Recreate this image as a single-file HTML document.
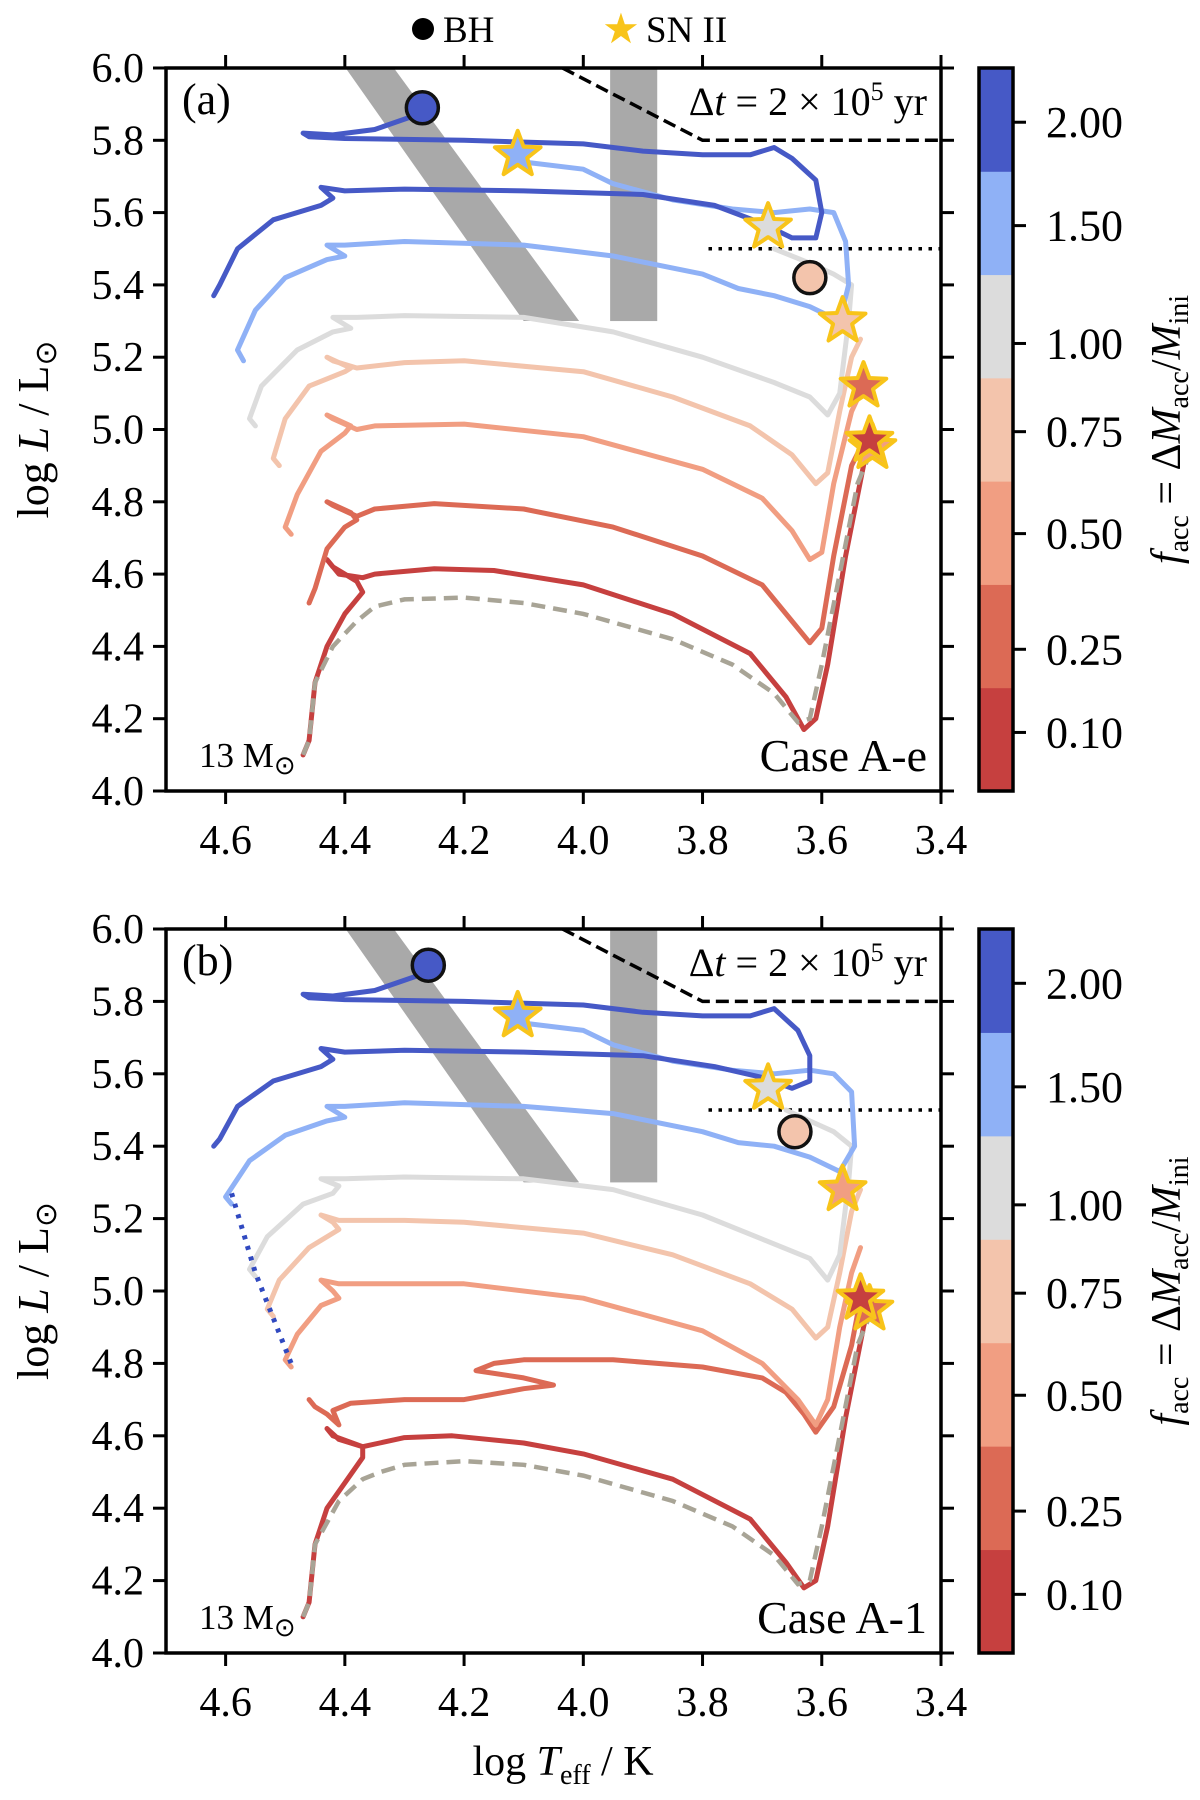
<!DOCTYPE html>
<html><head><meta charset="utf-8"><style>
body{margin:0;background:#fff}
svg{display:block;font-family:"Liberation Serif",serif}
</style></head><body>
<svg id="fig" width="1200" height="1800" viewBox="0 0 1200 1800" xmlns="http://www.w3.org/2000/svg">
<g>
<circle cx="423" cy="29" r="11" fill="#000"/>
<text x="443" y="42" font-size="37">BH</text>
<text x="621" y="43" font-size="42" fill="#f8c41a" text-anchor="middle">★</text>
<text x="646" y="42" font-size="37">SN II</text>
</g>
<text x="563" y="1775" font-size="42" text-anchor="middle">log <tspan font-style="italic">T</tspan><tspan font-size="28" dy="9">eff</tspan><tspan dy="-9"> / K</tspan></text>
</svg>
<script>
const facc = ['0.10','0.25','0.50','0.75','1.00','1.50','2.00'];
const colors = ['#c6403f','#dc6a55','#f19e82','#f3c4ac','#dcdcdc','#8fb1f6','#4659c6'];
const cbTicks = ['2.00','1.50','1.00','0.75','0.50','0.25','0.10'];
const cbTickFrac = [0.075,0.218,0.381,0.503,0.644,0.804,0.919];
const xTicks = [4.6,4.4,4.2,4.0,3.8,3.6,3.4];
const yTicks = [4.0,4.2,4.4,4.6,4.8,5.0,5.2,5.4,5.6,5.8,6.0];

const nonAccA = [[4.47,4.10],[4.46,4.14],[4.45,4.30],[4.42,4.40],[4.38,4.47],[4.35,4.51],[4.3,4.53],[4.2,4.535],[4.1,4.52],[4.0,4.49],[3.85,4.42],[3.75,4.35],[3.68,4.27],[3.64,4.19],[3.62,4.20],[3.60,4.35],[3.57,4.6],[3.54,4.85],[3.52,4.93]];
const tracksA = [
[[4.47,4.10],[4.46,4.14],[4.45,4.30],[4.43,4.40],[4.40,4.49],[4.37,4.55],[4.38,4.58],[4.42,4.62],[4.43,4.64],[4.41,4.60],[4.37,4.59],[4.35,4.60],[4.25,4.615],[4.15,4.61],[4.0,4.57],[3.85,4.49],[3.72,4.38],[3.66,4.26],[3.63,4.17],[3.61,4.2],[3.59,4.35],[3.56,4.65],[3.53,4.9],[3.52,4.97]],
[[4.46,4.52],[4.45,4.56],[4.43,4.67],[4.40,4.73],[4.38,4.75],[4.39,4.77],[4.43,4.80],[4.42,4.79],[4.38,4.76],[4.35,4.78],[4.25,4.795],[4.1,4.78],[3.95,4.73],[3.8,4.65],[3.7,4.57],[3.65,4.47],[3.62,4.41],[3.60,4.45],[3.58,4.65],[3.55,4.9],[3.52,5.0]],
[[4.49,4.71],[4.50,4.73],[4.48,4.82],[4.44,4.94],[4.40,4.99],[4.39,5.01],[4.43,5.04],[4.42,5.03],[4.38,5.0],[4.35,5.01],[4.2,5.015],[4.0,4.98],[3.8,4.89],[3.7,4.81],[3.65,4.72],[3.62,4.64],[3.60,4.66],[3.58,4.85],[3.55,5.05],[3.53,5.12]],
[[4.51,4.90],[4.52,4.92],[4.50,5.03],[4.46,5.12],[4.40,5.16],[4.39,5.17],[4.43,5.20],[4.42,5.19],[4.38,5.17],[4.3,5.185],[4.2,5.19],[4.0,5.16],[3.85,5.09],[3.72,5.01],[3.65,4.93],[3.61,4.85],[3.59,4.88],[3.57,5.05],[3.55,5.2],[3.535,5.25]],
[[4.55,5.01],[4.56,5.03],[4.54,5.12],[4.48,5.22],[4.42,5.27],[4.39,5.28],[4.42,5.31],[4.38,5.31],[4.3,5.315],[4.1,5.31],[3.95,5.27],[3.8,5.20],[3.68,5.13],[3.62,5.09],[3.59,5.04],[3.57,5.10],[3.555,5.3],[3.55,5.4],[3.58,5.43],[3.62,5.46],[3.68,5.50]],
[[4.57,5.19],[4.58,5.22],[4.55,5.33],[4.50,5.42],[4.43,5.47],[4.40,5.48],[4.43,5.51],[4.40,5.51],[4.3,5.52],[4.1,5.51],[3.95,5.48],[3.8,5.43],[3.74,5.39],[3.68,5.37],[3.62,5.34],[3.57,5.30],[3.555,5.40],[3.56,5.52],[3.58,5.60],[3.62,5.61],[3.68,5.60],[3.75,5.61],[3.85,5.635],[3.95,5.68],[4.0,5.72],[4.1,5.74]],
[[4.62,5.37],[4.61,5.40],[4.58,5.50],[4.52,5.58],[4.44,5.62],[4.42,5.64],[4.44,5.67],[4.40,5.66],[4.3,5.665],[4.1,5.66],[3.9,5.65],[3.78,5.62],[3.7,5.57],[3.65,5.53],[3.61,5.53],[3.6,5.6],[3.61,5.69],[3.65,5.75],[3.68,5.78],[3.72,5.76],[3.8,5.76],[3.9,5.77],[4.0,5.79],[4.2,5.80],[4.4,5.805],[4.46,5.81],[4.47,5.82],[4.42,5.815],[4.35,5.83],[4.28,5.87]]
];
const nonAccB = [[4.47,4.10],[4.46,4.14],[4.45,4.30],[4.41,4.42],[4.37,4.48],[4.34,4.50],[4.3,4.52],[4.2,4.53],[4.1,4.52],[4.0,4.49],[3.85,4.42],[3.75,4.35],[3.68,4.27],[3.64,4.19],[3.62,4.20],[3.60,4.35],[3.57,4.6],[3.54,4.85],[3.52,4.93]];
const tracksB = [
[[4.47,4.10],[4.46,4.14],[4.45,4.30],[4.43,4.40],[4.40,4.47],[4.37,4.54],[4.37,4.57],[4.42,4.60],[4.43,4.62],[4.41,4.59],[4.37,4.57],[4.3,4.595],[4.22,4.60],[4.1,4.58],[4.0,4.55],[3.85,4.48],[3.72,4.37],[3.66,4.25],[3.63,4.18],[3.61,4.2],[3.59,4.35],[3.56,4.65],[3.53,4.9],[3.52,4.97]],
[[4.46,4.70],[4.45,4.68],[4.43,4.66],[4.41,4.63],[4.42,4.67],[4.39,4.69],[4.3,4.70],[4.2,4.70],[4.1,4.73],[4.05,4.74],[4.1,4.76],[4.18,4.78],[4.15,4.80],[4.1,4.81],[3.95,4.81],[3.8,4.79],[3.7,4.76],[3.66,4.72],[3.63,4.66],[3.61,4.61],[3.58,4.68],[3.55,4.85],[3.535,4.98]],
[[4.49,4.79],[4.50,4.81],[4.48,4.88],[4.44,4.96],[4.41,4.98],[4.42,5.0],[4.44,5.03],[4.41,5.02],[4.35,5.02],[4.2,5.02],[4.0,4.98],[3.8,4.89],[3.7,4.80],[3.64,4.70],[3.61,4.63],[3.59,4.70],[3.57,4.90],[3.55,5.05],[3.535,5.12]],
[[4.52,4.93],[4.53,4.95],[4.51,5.03],[4.46,5.12],[4.41,5.17],[4.42,5.19],[4.44,5.21],[4.41,5.195],[4.3,5.195],[4.2,5.19],[4.0,5.16],[3.85,5.10],[3.72,5.02],[3.65,4.95],[3.61,4.87],[3.59,4.90],[3.57,5.05],[3.55,5.22],[3.535,5.28]],
[[4.55,5.04],[4.56,5.06],[4.53,5.15],[4.47,5.24],[4.42,5.27],[4.41,5.29],[4.44,5.31],[4.40,5.31],[4.3,5.315],[4.1,5.31],[3.95,5.28],[3.8,5.21],[3.68,5.13],[3.62,5.09],[3.59,5.03],[3.57,5.10],[3.555,5.3],[3.55,5.4],[3.58,5.44],[3.62,5.47],[3.66,5.50]],
[[4.59,5.24],[4.60,5.26],[4.56,5.36],[4.50,5.43],[4.43,5.47],[4.40,5.48],[4.43,5.51],[4.40,5.51],[4.3,5.52],[4.1,5.51],[3.95,5.49],[3.8,5.44],[3.74,5.41],[3.68,5.40],[3.62,5.37],[3.57,5.33],[3.545,5.40],[3.55,5.55],[3.58,5.60],[3.62,5.61],[3.68,5.60],[3.75,5.61],[3.85,5.635],[3.95,5.68],[4.0,5.72],[4.1,5.74]],
[[4.62,5.40],[4.61,5.42],[4.58,5.51],[4.52,5.58],[4.44,5.62],[4.42,5.64],[4.44,5.67],[4.40,5.66],[4.3,5.665],[4.1,5.66],[3.9,5.65],[3.78,5.62],[3.7,5.59],[3.65,5.56],[3.62,5.58],[3.62,5.65],[3.64,5.72],[3.68,5.78],[3.72,5.76],[3.8,5.76],[3.9,5.77],[4.0,5.79],[4.2,5.80],[4.4,5.805],[4.46,5.81],[4.47,5.82],[4.42,5.815],[4.35,5.83],[4.28,5.87]]
];
const dottedB = [[4.59,5.27],[4.55,5.05],[4.49,4.80]];
const starsA = [[4.11,5.76,5],[3.69,5.56,4],[3.565,5.30,3],[3.53,5.12,1],[3.515,4.95,2],[3.52,4.97,0]];
const circlesA = [[4.27,5.89,6],[3.62,5.42,3]];
const starsB = [[4.11,5.76,5],[3.69,5.56,4],[3.565,5.28,2],[3.52,4.95,1],[3.535,4.98,0]];
const circlesB = [[4.26,5.90,6],[3.645,5.44,3]];

const NS='http://www.w3.org/2000/svg';
const svg=document.getElementById('fig');
function mk(tag,attrs,parent){const e=document.createElementNS(NS,tag);for(const k in attrs)e.setAttribute(k,attrs[k]);(parent||svg).appendChild(e);return e;}

function panel(top,bot,tracks,nonAcc,stars,circles,tag,caseLabel,dotted){
  const L=166,R=941;
  const sx=t=>L+(4.7-t)/1.3*(R-L);
  const sy=l=>bot-(l-4.0)/2.0*(bot-top);
  const g=mk('g',{});
  
  
  const clipId='clip'+tag;
  const cp=mk('clipPath',{id:clipId},g);mk('rect',{x:L,y:top,width:R-L,height:bot-top},cp);
  const pg=mk('g',{'clip-path':'url(#'+clipId+')'},g);
  const b1=mk('polygon',{points:`${sx(4.42)},${sy(6.05)} ${sx(4.34)},${sy(6.05)} ${sx(4.007)},${sy(5.30)} ${sx(4.10)},${sy(5.30)}`,fill:'#a9a9a9'},pg);
  
  
  const b2=mk('rect',{x:sx(3.955),y:top,width:sx(3.876)-sx(3.955),height:sy(5.30)-top,fill:'#a9a9a9'},pg);
  
  
  const dl=mk('polyline',{points:`${sx(4.035)},${sy(6.0)} ${sx(3.80)},${sy(5.80)} ${sx(3.4)},${sy(5.80)}`,fill:'none',stroke:'#000','stroke-width':3.5,'stroke-dasharray':'13,6'},pg);
  
  
  const dt=mk('line',{x1:sx(3.79),y1:sy(5.5),x2:R,y2:sy(5.5),stroke:'#000','stroke-width':3.5,'stroke-dasharray':'3.5,6.5'},pg);
  
  
  const pts=a=>a.map(p=>sx(p[0]).toFixed(1)+','+sy(p[1]).toFixed(1)).join(' ');
  tracks.forEach((tr,i)=>{
    const e=mk('polyline',{points:pts(tr),fill:'none',stroke:colors[i],'stroke-width':5,'stroke-linejoin':'round','stroke-linecap':'round'},pg);
    
    
  });
  const na=mk('polyline',{points:pts(nonAcc),fill:'none',stroke:'#a8a496','stroke-width':4.5,'stroke-dasharray':'14,8'},pg);
  
  
  if(dotted){
    const d=mk('polyline',{points:pts(dotted),fill:'none',stroke:'#3049c0','stroke-width':5,'stroke-dasharray':'4,7'},pg);
    
    
  }
  circles.forEach(c=>{
    const e=mk('circle',{cx:sx(c[0]),cy:sy(c[1]),r:16,fill:colors[c[2]],stroke:'#111','stroke-width':3.5},pg);
    
    
  });
  stars.forEach(s=>{
    const cx=sx(s[0]),cy=sy(s[1]);let p=[];
    for(let k=0;k<10;k++){const r=k%2?10:24;const a=-Math.PI/2+k*Math.PI/5;p.push((cx+r*Math.cos(a)).toFixed(1)+','+(cy+r*Math.sin(a)).toFixed(1));}
    const e=mk('polygon',{points:p.join(' '),fill:colors[s[2]],stroke:'#f8c41a','stroke-width':4,'stroke-linejoin':'round'},pg);
    
    
  });
  const fr=mk('rect',{x:L,y:top,width:R-L,height:bot-top,fill:'none',stroke:'#000','stroke-width':3.5},g);
  
  
  xTicks.forEach(t=>{
    const x=sx(t);
    mk('line',{x1:x,y1:bot,x2:x,y2:bot+13,stroke:'#000','stroke-width':3},g);
    mk('line',{x1:x,y1:top,x2:x,y2:top-13,stroke:'#000','stroke-width':3},g);
    const tx=mk('text',{x:x,y:bot+63,'font-size':42,'text-anchor':'middle'},g);tx.textContent=t.toFixed(1);
    
    
  });
  yTicks.forEach(t=>{
    const y=sy(t);
    mk('line',{x1:L,y1:y,x2:L-13,y2:y,stroke:'#000','stroke-width':3},g);
    mk('line',{x1:R,y1:y,x2:R+13,y2:y,stroke:'#000','stroke-width':3},g);
    const tx=mk('text',{x:L-22,y:y+14,'font-size':42,'text-anchor':'end'},g);tx.textContent=t.toFixed(1);
    
    
  });
  const yl=mk('text',{x:0,y:0,'font-size':44,'text-anchor':'middle',transform:`translate(48,${(top+bot)/2}) rotate(-90)`},g);
  yl.innerHTML='log <tspan font-style="italic">L</tspan> / L<tspan font-size="30" dy="8">⊙</tspan>';
  
  
  const pl=mk('text',{x:182,y:top+46,'font-size':44},g);pl.textContent='('+tag+')';
  
  
  const ml=mk('text',{x:199,y:bot-24,'font-size':35},g);ml.innerHTML='13 M<tspan font-size="26" dy="7">⊙</tspan>';
  
  
  const cl=mk('text',{x:927,y:bot-20,'font-size':46,'text-anchor':'end'},g);cl.textContent=caseLabel;
  
  
  const dtl=mk('text',{x:927,y:top+47,'font-size':40,'text-anchor':'end'},g);
  dtl.innerHTML='Δ<tspan font-style="italic">t</tspan> = 2 × 10<tspan font-size="26" dy="-15">5</tspan><tspan dy="15"> yr</tspan>';
  
  
  const cbL=979,cbR=1013;const n=colors.length;const h=(bot-top)/n;
  const cb=mk('g',{},g);
  
  
  for(let i=0;i<n;i++){
    const r=mk('rect',{x:cbL,y:bot-(i+1)*h,width:cbR-cbL,height:h+0.5,fill:colors[i]},cb);
    
    
  }
  mk('rect',{x:cbL,y:top,width:cbR-cbL,height:bot-top,fill:'none',stroke:'#000','stroke-width':3.5},cb);
  cbTicks.forEach((t,i)=>{
    const y=top+cbTickFrac[i]*(bot-top);
    mk('line',{x1:cbR,y1:y,x2:cbR+13,y2:y,stroke:'#000','stroke-width':3},cb);
    const tx=mk('text',{x:1046,y:y+15,'font-size':44},cb);tx.textContent=t;
    
    
  });
  const ct=mk('text',{x:0,y:0,'font-size':42,'text-anchor':'middle',transform:`translate(1180,${(top+bot)/2}) rotate(-90)`},cb);
  ct.innerHTML='<tspan font-style="italic">f</tspan><tspan font-size="28" dy="8">acc</tspan><tspan dy="-8"> = Δ</tspan><tspan font-style="italic">M</tspan><tspan font-size="28" dy="8">acc</tspan><tspan dy="-8">/</tspan><tspan font-style="italic">M</tspan><tspan font-size="28" dy="8">ini</tspan>';
  
  
}
panel(68,791,tracksA,nonAccA,starsA,circlesA,'a','Case A-e',null);
panel(929,1653,tracksB,nonAccB,starsB,circlesB,'b','Case A-1',dottedB);
</script>
</body></html>
